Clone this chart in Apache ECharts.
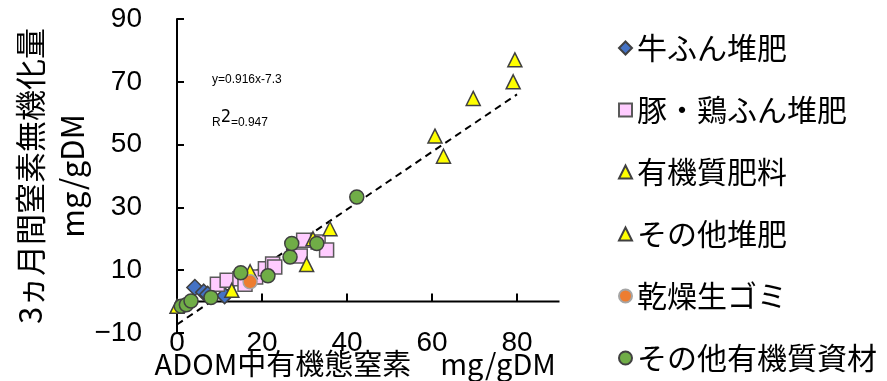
<!DOCTYPE html>
<html><head><meta charset="utf-8">
<script src="https://cdn.jsdelivr.net/npm/echarts@6/dist/echarts.min.js"></script>
<style>html,body{margin:0;padding:0;background:#fff}#c{width:887px;height:381px}</style>
</head><body><div id="c"></div>
<script>
// Data (x: ADOM中有機態窒素, y: 3ヵ月間窒素無機化量), mg/gDM
var cattle = [[4.2,4.5],[6.3,3.0],[7.2,2.3],[11.2,1.9]];
var pigChicken = [[9.5,5.5],[11.8,6.8],[14.8,7.3],[16.0,5.5],[18.5,7.8],[20.8,10.5],[22.5,12.0],[23.0,11.0],[29.0,14.5],[29.8,19.5],[33.2,19.0],[35.2,16.4]];
var organicFert = [[36.0,23.2],[60.7,52.7],[62.7,46.3],[69.7,64.7],[79.1,70.0],[79.5,77.0]];
var otherCompost = [[0.0,-1.5],[12.9,3.6],[17.2,9.5],[30.5,11.8],[32.0,20.0]];
var foodWaste = [[17.2,6.3]];
var otherMaterial = [[1.0,-1.5],[2.2,-1.0],[3.3,0.2],[8.0,1.3],[15.0,9.2],[21.4,8.2],[26.6,14.2],[27.0,18.5],[32.9,18.5],[42.3,33.3]];
var trendLine = [[0,-7.3],[80,66.0]];
var xTicks = [0,20,40,60,80];
var yTicks = [-10,10,30,50,70,90];
var seriesNames = ['牛ふん堆肥','豚・鶏ふん堆肥','有機質肥料','その他堆肥','乾燥生ゴミ','その他有機質資材'];

var xMin = 0, xMax = 90, yMin = -10, yMax = 90, gridH = 314;
var chart = echarts.init(document.getElementById('c'));
var tickFont = {fontFamily:'Liberation Sans', fontSize:28, color:'#000'};
var cjk = 'Noto Sans CJK JP';
function fmt(v){ return String(v).replace('-', '\u2212'); }
function sc(name, data, symbol, size, color, border){
  return {name:name, type:'scatter', data:data, symbol:symbol, symbolSize:size, z:3,
    itemStyle:{color:color, borderColor:border, borderWidth:1.5, opacity:1}, emphasis:{disabled:true}};
}
chart.setOption({
  animation:false,
  grid:{left:177, right:327.5, top:19, height:gridH, containLabel:false, outerBoundsMode:'none'},
  legend:{orient:'vertical', left:613, top:28, itemWidth:13, itemHeight:13, itemGap:32,
    data:seriesNames,
    textStyle:{fontFamily:cjk, fontSize:30, lineHeight:30, color:'#000'}},
  xAxis:{type:'value', min:xMin, max:xMax,
    axisLine:{show:false, onZero:false},
    axisTick:{show:false},
    axisLabel:Object.assign({margin:-4, customValues:xTicks, formatter:fmt}, tickFont),
    splitLine:{show:false},
    name:'ADOM中有機態窒素　mg/gDM', nameLocation:'middle', nameGap:16, nameMoveOverlap:false,
    nameTextStyle:{fontFamily:cjk, fontSize:29, color:'#000', padding:[0,26,0,0]}},
  yAxis:{type:'value', min:yMin, max:yMax,
    axisLine:{show:true, onZero:false, lineStyle:{color:'#000', width:2}},
    axisTick:{show:true, inside:true, length:7, customValues:yTicks, lineStyle:{color:'#000', width:2}},
    axisLabel:Object.assign({margin:35, customValues:yTicks, formatter:fmt}, tickFont),
    splitLine:{show:false},
    name:'3ヵ月間窒素無機化量\nmg/gDM', nameLocation:'middle', nameGap:84, nameMoveOverlap:false,
    nameTextStyle:{fontFamily:cjk, fontSize:31, lineHeight:42, color:'#000'}},
  series:[
    {name:'trend', type:'line', data:trendLine, symbol:'none', z:2, silent:true,
     lineStyle:{color:'#000', width:2, type:[7,5]}, emphasis:{disabled:true}},
    sc(seriesNames[0], cattle, 'diamond', 16, '#4472C4', '#404040'),
    sc(seriesNames[1], pigChicken, 'rect', 14, '#FFCCFF', '#595959'),
    sc(seriesNames[2], organicFert, 'triangle', 14, '#FFFF00', '#404040'),
    sc(seriesNames[3], otherCompost, 'triangle', 14, '#FFFF00', '#404040'),
    sc(seriesNames[4], foodWaste, 'circle', 14, '#ED7D31', '#A5A5A5'),
    sc(seriesNames[5], otherMaterial, 'circle', 14, '#70AD47', '#404040')
  ],
  graphic:[
    {type:'text', left:212, top:74, style:{text:'y=0.916x-7.3', font:'27px "DejaVu Sans Mono", monospace', fill:'#000'}},
    {type:'text', left:212, top:109, style:{text:'R{s|2}=0.947', font:'27px "DejaVu Sans Mono", monospace', fill:'#000',
      rich:{s:{fontSize:17, fontFamily:'DejaVu Sans Mono', verticalAlign:'top', padding:[0,0,10,0]}}}}
  ]
});

// x axis crosses at y = 0 (as in the Excel original): positions come from the chart's own scales
var p0 = chart.convertToPixel({xAxisIndex:0, yAxisIndex:0}, [xMin, 0]);
var p1 = chart.convertToPixel({xAxisIndex:0, yAxisIndex:0}, [xMax, 0]);
var zeroEls = [{type:'line', z:1, silent:true,
  shape:{x1:p0[0], y1:p0[1], x2:p1[0], y2:p1[1]}, style:{stroke:'#000', lineWidth:2}}];
xTicks.slice(1).forEach(function(v){
  var p = chart.convertToPixel({xAxisIndex:0, yAxisIndex:0}, [v, 0]);
  zeroEls.push({type:'line', z:1, silent:true,
    shape:{x1:p[0], y1:p[1], x2:p[0], y2:p[1] - 8}, style:{stroke:'#000', lineWidth:2}});
});
chart.setOption({graphic:[{}, {}, {type:'group', z:1, children:zeroEls}]});
</script></body></html>
